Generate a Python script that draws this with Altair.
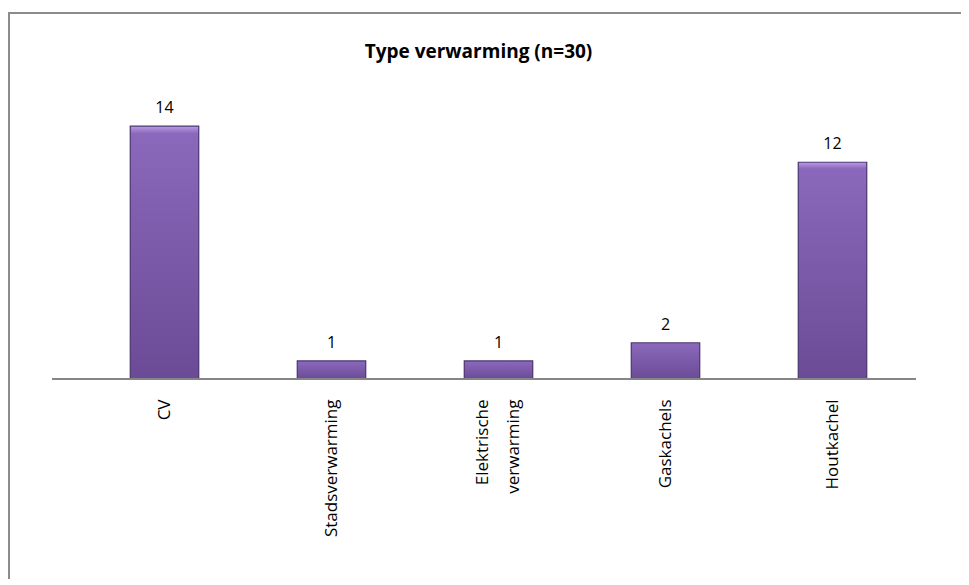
import altair as alt
import pandas as pd

categories = ["CV", "Stadsverwarming", "Elektrische\nverwarming", "Gaskachels", "Houtkachel"]
values = [14, 1, 1, 2, 12]
title_text = "Type verwarming (n=30)"

df = pd.DataFrame({"cat": categories, "val": values})

W, H = 835, 289
FONT = "Open Sans"

x = alt.X("cat:N", sort=categories, title=None,
          scale=alt.Scale(paddingInner=0.59, paddingOuter=0.295),
          axis=alt.Axis(labelAngle=270, labelAlign="right", labelBaseline="middle",
                        labelPadding=20, labelFontSize=17, labelFont=FONT,
                        labelColor="black", labelLineHeight=31,
                        labelOffset={"condition": {"test": "indexof(datum.value, '\\n') >= 0",
                                                   "value": -16}, "value": 0},
                        labelExpr="split(datum.label, '\\n')",
                        domain=False, ticks=False, grid=False, zindex=1))
y = alt.Y("val:Q", scale=alt.Scale(domain=[0, 16]), axis=None)

border = alt.Chart(df).mark_rect(fill="transparent", stroke="#8c8c8c", strokeWidth=2).encode(
    x=alt.value(-72), x2=alt.value(920), y=alt.value(-77), y2=alt.value(520))

grad = alt.Gradient(gradient="linear", x1=0, y1=0, x2=0, y2=1,
                    stops=[alt.GradientStop(color="#b99be6", offset=0),
                           alt.GradientStop(color="#8a68bb", offset=0.03),
                           alt.GradientStop(color="#6b4b96", offset=1)])

bars = alt.Chart(df).mark_bar(fill=grad, stroke="#4a3470", strokeWidth=1.2).encode(x=x, y=y)

labels = alt.Chart(df).mark_text(dy=-18, fontSize=16, font=FONT, color="black").encode(
    x=alt.X("cat:N", sort=categories), y=y, text="val:Q")

axisline = alt.Chart(df).mark_rule(color="#868686", strokeWidth=2).encode(
    x=alt.value(-29), x2=alt.value(W), y=alt.value(H))

chart = alt.layer(border, bars, labels, axisline).properties(
    width=W, height=H,
    title=alt.TitleParams(title_text, font=FONT, fontSize=19, fontWeight="bold",
                          color="black", anchor="middle", dx=-20, offset=-50),
    autosize=alt.AutoSizeParams(type="none"),
    padding={"left": 73, "top": 82, "right": 45, "bottom": 200},
).configure_view(stroke=None)

chart.save("out.html", embed_options={"renderer": "svg", "actions": False})
